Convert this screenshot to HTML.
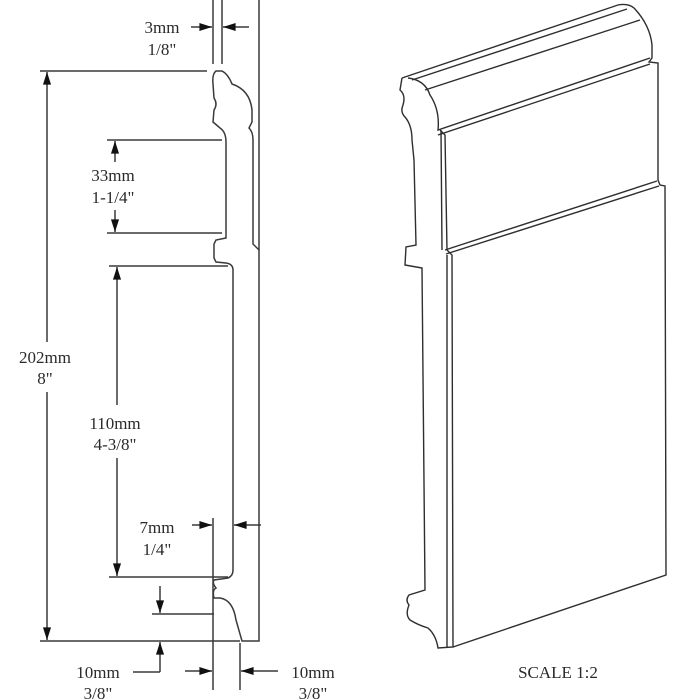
<!DOCTYPE html>
<html><head><style>
html,body{margin:0;padding:0;background:#fff;width:700px;height:700px;overflow:hidden}
text{font-family:"Liberation Serif",serif;font-size:17px;fill:#2a2a2a}
</style></head><body>
<svg width="700" height="700" viewBox="0 0 700 700" xmlns="http://www.w3.org/2000/svg">
<defs>
<marker id="a" viewBox="0 0 14 10" refX="14" refY="5" markerWidth="14" markerHeight="9" orient="auto-start-reverse" markerUnits="userSpaceOnUse"><path d="M0,0.5 L14,5 L0,9.5 Z" fill="#111"/></marker>
</defs>
<g stroke="#3a3a3a" stroke-width="1.5" fill="none">
<path d="M259,0 L259,641 L242,641 L236,620 Q233,600 220,598 L214,598 Q212,590 216,588 Q212,583 214,580 L228,578 Q233,576 233,570 L233,270 Q233,264 226,263 L216,262 L214,258 L214,244 L216,240 L226,238 L226,142 Q226,132 220,128 L213,122 L214,110 Q218,104 214,98 L213,84 Q212,74 216,71 L222,71 Q228,74 232,84 Q250,90 252,110 L252,122 L249,128 Q253,132 253,140 L253,244 L259,250"/>
<line x1="213" y1="0" x2="213" y2="64"/><line x1="222" y1="0" x2="222" y2="64"/>
<line x1="40" y1="71" x2="207" y2="71"/><line x1="40" y1="641" x2="240" y2="641"/>
<line x1="47" y1="342" x2="47" y2="72" marker-end="url(#a)"/>
<line x1="47" y1="392" x2="47" y2="640" marker-end="url(#a)"/>
<line x1="107" y1="140" x2="222" y2="140"/><line x1="107" y1="233" x2="222" y2="233"/>
<line x1="115" y1="162" x2="115" y2="141" marker-end="url(#a)"/>
<line x1="115" y1="210" x2="115" y2="232" marker-end="url(#a)"/>
<line x1="109" y1="266" x2="228" y2="266"/><line x1="109" y1="577" x2="228" y2="577"/>
<line x1="117" y1="405" x2="117" y2="267" marker-end="url(#a)"/>
<line x1="117" y1="458" x2="117" y2="576" marker-end="url(#a)"/>
<line x1="213" y1="518" x2="213" y2="690"/>
<line x1="192" y1="525" x2="212" y2="525" marker-end="url(#a)"/>
<line x1="261" y1="525" x2="234" y2="525" marker-end="url(#a)"/>
<line x1="152" y1="614" x2="214" y2="614"/>
<line x1="160" y1="586" x2="160" y2="613" marker-end="url(#a)"/>
<line x1="133" y1="672" x2="160" y2="672"/>
<line x1="160" y1="672" x2="160" y2="642" marker-end="url(#a)"/>
<line x1="240" y1="643" x2="240" y2="690"/>
<line x1="185" y1="671" x2="212" y2="671" marker-end="url(#a)"/>
<line x1="278" y1="671" x2="241" y2="671" marker-end="url(#a)"/>
<line x1="191" y1="27" x2="212" y2="27" marker-end="url(#a)"/>
<line x1="249" y1="27" x2="223" y2="27" marker-end="url(#a)"/>
</g>
<g text-anchor="middle">
<text x="162" y="33">3mm</text><text x="162" y="55">1/8"</text>
<text x="45" y="363">202mm</text><text x="45" y="384">8"</text>
<text x="113" y="181">33mm</text><text x="113" y="203">1-1/4"</text>
<text x="115" y="429">110mm</text><text x="115" y="450">4-3/8"</text>
<text x="157" y="533">7mm</text><text x="157" y="555">1/4"</text>
<text x="98" y="678">10mm</text><text x="98" y="699">3/8"</text>
<text x="313" y="678">10mm</text><text x="313" y="699">3/8"</text>
<text x="558" y="678" font-size="17">SCALE  1:2</text>
</g>
<g stroke="#2e2e2e" stroke-width="1.4" fill="none">
<path d="M402,78 L618,5 Q628,3 634,8 Q650,25 652,45 L652,58 L649,62 L658,63 L658,180 L660,185 L665,186 L666,575 L453,647"/>
<path d="M402,78 L400,90 Q406,95 403,105 Q400,112 405,117 Q412,125 412,140 L414,160 L416,245 L406,247 L405,265 L422,268 L425,590 L409,595 Q405,600 409,605 Q405,615 410,620 Q418,625 428,628 Q436,635 438,648 L453,647 L452,255 L447,250 L445,135 L440,130"/>
<path d="M408,78 Q425,80 430,95 Q440,110 438,130 L650,58"/>
<path d="M425,90 L640,20"/>
<path d="M412,80 L627,9"/>
<path d="M438,135 L650,64"/>
<path d="M441,130 L442,250"/>
<path d="M445,250 L657,181"/>
<path d="M446,254 L659,186"/>
<path d="M447,255 L447,647"/>
</g>
</svg>
</body></html>
